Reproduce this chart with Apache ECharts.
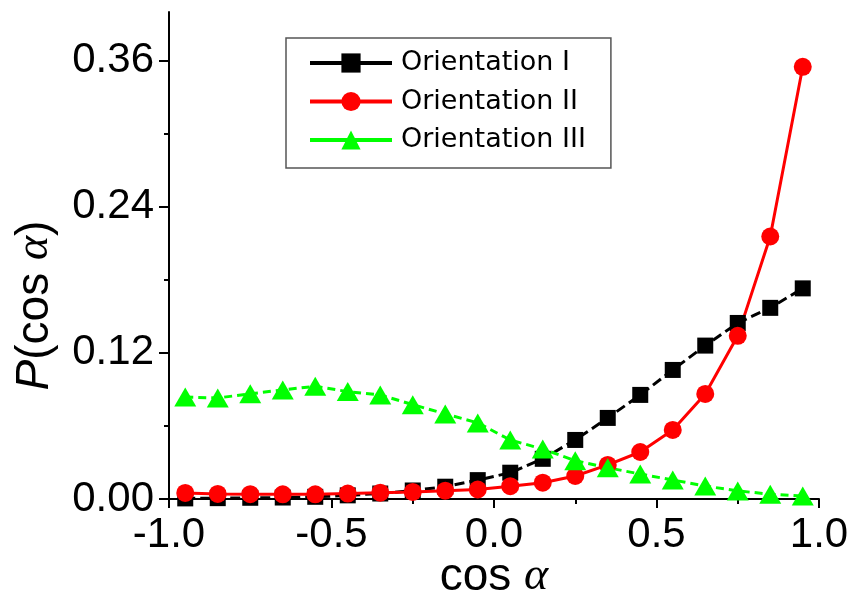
<!DOCTYPE html>
<html><head><meta charset="utf-8">
<script src="https://cdn.jsdelivr.net/npm/echarts@6/dist/echarts.min.js"></script>
<style>html,body{margin:0;padding:0;background:#fff}#c{width:852px;height:591px}</style>
</head><body><div id="c"></div>
<script>
const cosAlpha = [-0.95,-0.85,-0.75,-0.65,-0.55,-0.45,-0.35,-0.25,-0.15,-0.05,0.05,0.15,0.25,0.35,0.45,0.55,0.65,0.75,0.85,0.95];
const orientationI = [0.0005,0.0007,0.001,0.0012,0.0018,0.003,0.0045,0.007,0.0101,0.0155,0.0216,0.033,0.0485,0.0666,0.0855,0.106,0.126,0.1446,0.157,0.173];
const orientationII = [0.005,0.0042,0.004,0.0038,0.0038,0.0045,0.0052,0.0058,0.0068,0.0078,0.0105,0.0134,0.0189,0.028,0.0386,0.0567,0.0863,0.134,0.2156,0.355];
const orientationIII = [0.0837,0.083,0.0864,0.0896,0.0926,0.0882,0.0855,0.0775,0.0699,0.0625,0.0485,0.041,0.0315,0.0257,0.0205,0.0156,0.0107,0.0066,0.004,0.0025];
const seriesNames = ['Orientation I','Orientation II','Orientation III'];
const xTicks = [-1.0,-0.5,0.0,0.5,1.0];
const yTicks = [0,0.12,0.24,0.36];
const yMinorTicks = [0.06,0.18,0.30];

const zip = ys => cosAlpha.map((x,i)=>[x, ys[i]]);
const chart = echarts.init(document.getElementById('c'), null, {renderer:'canvas'});
const sansFont = 'Liberation Sans, Arial, sans-serif';
const mathFont = 'Liberation Serif, DejaVu Serif, serif';
chart.setOption({
  animation:false,
  backgroundColor:'#fff',
  grid:{left:169,right:33,top:12,bottom:92,containLabel:false,outerBoundsMode:'none'},
  legend:{
    left:286, top:38, orient:'vertical',
    padding:[10,25,13,22],
    itemWidth:82, itemHeight:24, itemGap:8.5,
    borderColor:'#555', borderWidth:1.5, backgroundColor:'#fff',
    textStyle:{fontFamily:'DejaVu Sans', fontSize:27, color:'#000', lineHeight:30, padding:[0,0,0,4]},
    lineStyle:{type:'solid', width:4},
    selectedMode:false,
    data:seriesNames
  },
  xAxis:{
    type:'value', min:xTicks[0], max:xTicks[xTicks.length-1], interval:0.5,
    axisLine:{onZero:false,lineStyle:{color:'#000',width:2}},
    axisTick:{length:9,lineStyle:{color:'#000',width:2}},
    minorTick:{show:true,splitNumber:2,length:5,lineStyle:{color:'#000',width:2}},
    splitLine:{show:false},
    axisLabel:{fontFamily:sansFont,fontSize:42,color:'#000',margin:15,formatter:v=>v.toFixed(1)},
    name:'{n|cos} {a|α}', nameLocation:'middle', nameGap:55, nameMoveOverlap:false,
    nameTextStyle:{color:'#000',fontFamily:sansFont,fontSize:46,
      rich:{n:{fontFamily:sansFont,fontSize:46,color:'#000'},a:{fontFamily:mathFont,fontStyle:'italic',fontSize:46,color:'#000'}}}
  },
  yAxis:[{
    type:'value', min:0, max:0.4, interval:0.12,
    axisLine:{show:true,onZero:false,lineStyle:{color:'#000',width:2}},
    axisTick:{show:true,length:10,customValues:yTicks,lineStyle:{color:'#000',width:2}},
    splitLine:{show:false},
    axisLabel:{fontFamily:sansFont,fontSize:42,color:'#000',margin:15,customValues:yTicks,formatter:v=>v.toFixed(2)},
    name:'{i|P}(cos {a|α})', nameLocation:'middle', nameGap:111, nameMoveOverlap:false,
    nameTextStyle:{color:'#000',fontFamily:sansFont,fontSize:46,padding:[0,100,0,0],
      rich:{i:{fontFamily:sansFont,fontStyle:'italic',fontSize:46,color:'#000'},a:{fontFamily:mathFont,fontStyle:'italic',fontSize:46,color:'#000'}}}
  },{
    type:'value', min:0, max:0.4, position:'left',
    axisLine:{show:false,onZero:false},
    axisTick:{show:true,length:5,customValues:yMinorTicks,lineStyle:{color:'#000',width:2}},
    axisLabel:{show:false},
    splitLine:{show:false}
  }],
  series:[
    {name:seriesNames[0],type:'line',data:zip(orientationI),symbol:'rect',symbolSize:16,
     lineStyle:{color:'#000',width:3,type:[10,5]},itemStyle:{color:'#000'}},
    {name:seriesNames[1],type:'line',data:zip(orientationII),symbol:'circle',symbolSize:18,
     lineStyle:{color:'#ff0000',width:3,type:'solid'},itemStyle:{color:'#ff0000'}},
    {name:seriesNames[2],type:'line',data:zip(orientationIII),symbol:'triangle',symbolSize:[22,19],
     lineStyle:{color:'#00ff00',width:3,type:[8,5]},itemStyle:{color:'#00ff00'}}
  ]
});
</script></body></html>
